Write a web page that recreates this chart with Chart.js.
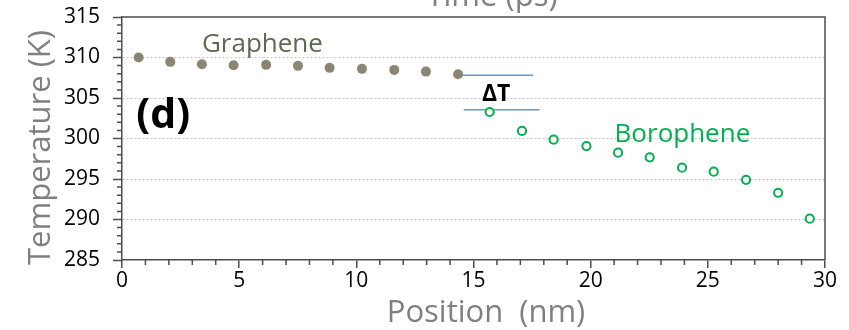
<!DOCTYPE html>
<html><head><meta charset="utf-8">
<script src="https://cdn.jsdelivr.net/npm/chart.js@4.4.0/dist/chart.umd.min.js"></script>
<style>html,body{margin:0;padding:0;background:#fff;}#wrap{width:849px;height:330px;}</style>
</head><body><div id="wrap"><canvas id="c" width="849" height="330"></canvas></div>
<script>
// ---- data ----
const xTicks = [0, 5, 10, 15, 20, 25, 30];
const yTicks = [285, 290, 295, 300, 305, 310, 315];
const graphenePos  = [0.71, 2.06, 3.41, 4.76, 6.15, 7.51, 8.86, 10.24, 11.62, 12.97, 14.34];
const grapheneTemp = [310.0, 309.46, 309.16, 309.04, 309.09, 308.97, 308.72, 308.6, 308.47, 308.26, 307.93];
const borophenePos  = [15.69, 17.07, 18.42, 19.82, 21.17, 22.52, 23.9, 25.25, 26.63, 28.0, 29.35];
const boropheneTemp = [303.27, 300.93, 299.85, 299.07, 298.25, 297.67, 296.4, 295.9, 294.9, 293.3, 290.1];
const deltaUpperX = [14.35, 17.54];
const deltaUpperY = [307.8, 307.8];
const deltaLowerX = [14.58, 17.82];
const deltaLowerY = [303.56, 303.56];
const xTitle = 'Position  (nm)';
const yTitle = 'Temperature (K)';
const topCutTitle = 'Time (ps)';
// in-plot labels (anchored in data coordinates)
const labelTexts = ['Graphene', 'Borophene', 'ΔT', '(d)'];
const labelX = [3.41, 21.02, 15.36, 0.61];
const labelY = [310.71, 299.62, 304.69, 301.28];

const FONT = "'Open Sans', sans-serif";
const AXIS = '#4d4d4d';
const pts = (xs, ys) => xs.map((x, i) => ({x: x, y: ys[i]}));

const decor = {
  id: 'decor',
  beforeDatasetsDraw(chart) {
    const {ctx, chartArea: a, scales: {x, y}} = chart;
    ctx.save();
    ctx.strokeStyle = AXIS;
    ctx.lineWidth = 1.5;
    ctx.beginPath();
    ctx.moveTo(a.left, a.top); ctx.lineTo(a.right, a.top); ctx.lineTo(a.right, a.bottom);
    ctx.stroke();
    ctx.beginPath();
    for (let v = y.min; v <= y.max; v++) {
      if (v % 5 === 0) continue;
      const p = y.getPixelForValue(v);
      ctx.moveTo(a.left - 5, p); ctx.lineTo(a.left, p);
    }
    for (let v = x.min; v <= x.max; v++) {
      if (v % 5 === 0) continue;
      const p = x.getPixelForValue(v);
      ctx.moveTo(p, a.bottom); ctx.lineTo(p, a.bottom + 5);
    }
    ctx.stroke();
    ctx.restore();
  },
  afterDraw(chart) {
    const {ctx, scales: {x, y}} = chart;
    const styles = [
      {font: '26px ' + FONT, color: '#5F6850'},
      {font: '26px ' + FONT, color: '#00B050'},
      {font: 'bold 23px ' + FONT, color: '#000'},
      {font: 'bold 41px ' + FONT, color: '#000'}
    ];
    ctx.save();
    ctx.textBaseline = 'alphabetic';
    ctx.textAlign = 'left';
    labelTexts.forEach((t, i) => {
      ctx.font = styles[i].font;
      ctx.fillStyle = styles[i].color;
      ctx.fillText(t, x.getPixelForValue(labelX[i]), y.getPixelForValue(labelY[i]));
    });
    // axis titles
    ctx.font = '31px ' + FONT;
    ctx.fillStyle = '#808080';
    ctx.textAlign = 'center';
    ctx.fillText(xTitle, 486, 321.5);
    ctx.fillText(topCutTitle, 492, 6);
    ctx.translate(50, 147.5);
    ctx.rotate(-Math.PI / 2);
    ctx.fillText(yTitle, 0, 0);
    ctx.restore();
  }
};

new Chart(document.getElementById('c'), {
  type: 'scatter',
  data: {
    datasets: [
      {label: 'Graphene', data: pts(graphenePos, grapheneTemp), pointRadius: 5,
       pointBackgroundColor: '#8B8574', pointBorderWidth: 0, pointBorderColor: '#8B8574', order: 0},
      {label: 'Borophene', data: pts(borophenePos, boropheneTemp), pointRadius: 4.1,
       pointBackgroundColor: '#ffffff', pointBorderWidth: 2, pointBorderColor: '#00B050', order: 0},
      {label: 'ΔT upper', type: 'line', data: pts(deltaUpperX, deltaUpperY), borderColor: '#5B9BD5',
       borderWidth: 1.5, pointRadius: 0, showLine: true, fill: false, order: 1},
      {label: 'ΔT lower', type: 'line', data: pts(deltaLowerX, deltaLowerY), borderColor: '#5B9BD5',
       borderWidth: 1.5, pointRadius: 0, showLine: true, fill: false, order: 1}
    ]
  },
  options: {
    responsive: false,
    animation: false,
    events: [],
    layout: {padding: {left: 0, right: 24, top: 17, bottom: 0}},
    plugins: {legend: {display: false}, tooltip: {enabled: false}},
    scales: {
      x: {
        type: 'linear', min: 0, max: 30,
        afterBuildTicks: s => { s.ticks = xTicks.map(v => ({value: v})); },
        afterFit: s => { s.height = 70; s.paddingLeft = 0; s.paddingRight = 0; s.paddingTop = 0; s.paddingBottom = 0; },
        grid: {display: true, drawOnChartArea: false, drawTicks: true, tickLength: 8,
               color: AXIS, tickColor: AXIS, lineWidth: 1.5, tickWidth: 1.5},
        border: {display: true, color: AXIS, width: 1.5},
        ticks: {font: {family: FONT, size: 21}, color: '#000', padding: 0, maxRotation: 0, autoSkip: false}
      },
      y: {
        type: 'linear', min: 285, max: 315,
        afterBuildTicks: s => { s.ticks = yTicks.map(v => ({value: v})); },
        afterFit: s => { s.width = 122; s.paddingLeft = 0; s.paddingRight = 0; s.paddingTop = 0; s.paddingBottom = 0; },
        grid: {display: true, drawOnChartArea: true, drawTicks: true, tickLength: 9,
               color: c => (c.tick && (c.tick.value === 285 || c.tick.value === 315)) ? 'rgba(0,0,0,0)' : '#c4c4c4',
               lineWidth: 1, tickColor: AXIS, tickWidth: 1.5},
        border: {display: true, color: AXIS, width: 1.5, dash: [2, 2]},
        ticks: {font: {family: FONT, size: 21}, color: '#000', padding: 13, autoSkip: false}
      }
    }
  },
  plugins: [decor]
});
</script></body></html>
